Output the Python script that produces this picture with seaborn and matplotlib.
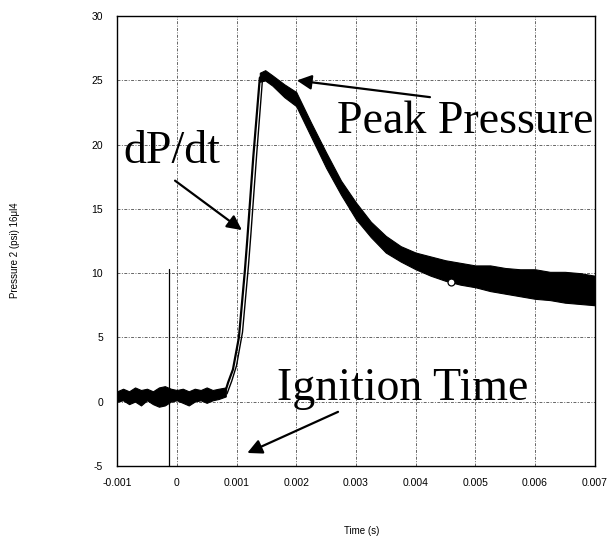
import matplotlib
matplotlib.use("Agg")
import matplotlib.pyplot as plt
import seaborn as sns

sns.set_style("white")
plt.rcParams["text.color"] = "black"
plt.rcParams["axes.labelcolor"] = "black"
plt.rcParams["xtick.color"] = "black"
plt.rcParams["ytick.color"] = "black"

# baseline (pre-ignition) noise envelope
base_t  = [-0.001, -0.0009, -0.0008, -0.0007, -0.0006, -0.0005, -0.0004, -0.0003, -0.0002, -0.0001,
           0.0, 0.0001, 0.0002, 0.0003, 0.0004, 0.0005, 0.0006, 0.0007, 0.00082]
base_hi = [0.8, 1.0, 0.8, 1.1, 0.9, 1.0, 0.8, 1.1, 1.2, 1.0, 0.9, 1.0, 0.8, 1.0, 0.9, 1.1, 0.9, 1.0, 1.1]
base_lo = [0.0, 0.1, -0.2, 0.0, -0.3, 0.1, -0.2, -0.4, -0.3, 0.0, 0.1, -0.1, -0.3, 0.0, 0.1, -0.1, 0.1, 0.2, 0.4]

# pressure rise
rise_t = [0.00080, 0.00086, 0.00094, 0.00104, 0.00114, 0.00118, 0.00128, 0.00139, 0.00145]
rise_p = [0.6, 1.5, 2.5, 5.0, 10.2, 12.6, 19.0, 25.2, 25.5]

# dP/dt fit line drawn beside the rise
fit_t = [0.00084, 0.00092, 0.00100, 0.00110, 0.00120, 0.00124, 0.00134, 0.00144]
fit_p = [0.6, 1.6, 2.8, 5.4, 10.6, 13.0, 19.4, 25.4]

# decay noise envelope
decay_t  = [0.00139, 0.00148, 0.0016, 0.0018, 0.002, 0.00225, 0.0025, 0.00275, 0.003, 0.00325,
            0.0035, 0.00375, 0.004, 0.00425, 0.0045, 0.00475, 0.005, 0.00525, 0.0055, 0.00575,
            0.006, 0.00625, 0.0065, 0.00675, 0.007]
decay_hi = [25.6, 25.8, 25.4, 24.7, 24.1, 21.7, 19.4, 17.2, 15.5, 14.0, 12.9, 12.1, 11.6, 11.3,
            11.0, 10.8, 10.6, 10.6, 10.4, 10.3, 10.3, 10.1, 10.1, 10.0, 9.8]
decay_lo = [24.9, 25.0, 24.6, 23.7, 23.0, 20.6, 18.2, 16.1, 14.2, 12.8, 11.6, 10.9, 10.3, 9.8,
            9.4, 9.1, 8.9, 8.6, 8.4, 8.2, 8.0, 7.9, 7.7, 7.6, 7.5]

# trigger trace and marker
trig_t = [-0.00013, -0.00013]
trig_p = [10.3, -5.0]
mark_t = [0.0046]
mark_p = [9.3]

x_ticks = [-0.001, 0, 0.001, 0.002, 0.003, 0.004, 0.005, 0.006, 0.007]
y_ticks = [-5, 0, 5, 10, 15, 20, 25, 30]

fig = plt.figure(figsize=(6.10, 5.41), dpi=100)
ax = fig.add_axes([0.192, 0.139, 0.783, 0.831])

grid_kw = dict(color="0.4", lw=0.7, dashes=(3, 1.5, 1, 1.5), zorder=0)
for xv in x_ticks[1:-1]:
    ax.axvline(xv, **grid_kw)
for yv in y_ticks[1:-1]:
    ax.axhline(yv, **grid_kw)

ax.fill_between(base_t, base_lo, base_hi, color="black", lw=0.8, zorder=3)
ax.fill_between(decay_t, decay_lo, decay_hi, color="black", lw=0.8, zorder=3)
sns.lineplot(x=rise_t, y=rise_p, color="black", lw=1.6, ax=ax, zorder=4,
             estimator=None, sort=False)
sns.lineplot(x=fit_t, y=fit_p, color="black", lw=1.0, ax=ax, zorder=4,
             estimator=None, sort=False)
sns.lineplot(x=trig_t, y=trig_p, color="black", lw=0.9, ax=ax, zorder=2,
             estimator=None, sort=False)
ax.plot(mark_t, mark_p, "o", mfc="white", mec="black", ms=5, mew=0.9, zorder=5)

ax.set_xlim(-0.001, 0.007)
ax.set_ylim(-5, 30)
ax.set_xticks(x_ticks)
ax.set_yticks(y_ticks)
ax.set_xticklabels([f"{v:g}" for v in x_ticks])
ax.set_yticklabels([str(v) for v in y_ticks])
ax.tick_params(axis="both", labelsize=7.5, length=0)
ax.tick_params(axis="x", pad=9)
ax.tick_params(axis="y", pad=10)
for lab in ax.get_xticklabels() + ax.get_yticklabels():
    lab.set_family(["Liberation Sans", "DejaVu Sans"])
for sp in ax.spines.values():
    sp.set_color("black")
    sp.set_linewidth(1.0)

ax.set_xlabel("Time (s)", fontsize=7, family=["Liberation Sans", "DejaVu Sans"])
ax.set_ylabel("Pressure 2 (psi) 16\u03bcl4", fontsize=7, family=["Liberation Sans", "DejaVu Sans"])
ax.xaxis.set_label_coords(0.513, -0.135)
ax.yaxis.set_label_coords(-0.203, 0.48)

serif = ["Liberation Serif", "DejaVu Serif"]
arrow = dict(arrowstyle="-|>", color="black", lw=1.6, mutation_scale=22, shrinkA=0, shrinkB=0)
ax.text(-0.0009, 18.6, "dP/dt", fontsize=33, family=serif, ha="left", va="baseline", zorder=6)
ax.text(0.00698, 20.9, "Peak Pressure", fontsize=33, family=serif, ha="right", va="baseline", zorder=6)
ax.text(0.00168, 0.13, "Ignition Time", fontsize=33, family=serif, ha="left", va="baseline", zorder=6)
ax.annotate("", xy=(0.00109, 13.35), xytext=(-0.00003, 17.2), arrowprops=arrow, zorder=6)
ax.annotate("", xy=(0.00201, 25.0), xytext=(0.00424, 23.7), arrowprops=arrow, zorder=6)
ax.annotate("", xy=(0.00118, -4.0), xytext=(0.0027, -0.8), arrowprops=arrow, zorder=6)

fig.savefig("out.png", dpi=100, facecolor="white")
